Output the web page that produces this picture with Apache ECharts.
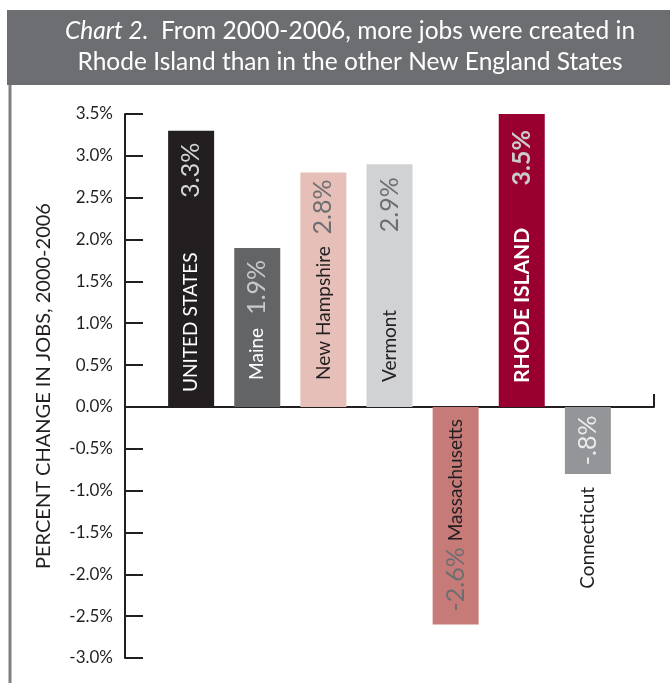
<!DOCTYPE html>
<html>
<head>
<meta charset="utf-8">
<script src="https://cdn.jsdelivr.net/npm/echarts@6/dist/echarts.min.js"></script>
<style>
  html, body { margin: 0; padding: 0; background: #ffffff; }
  #chart { width: 670px; height: 683px; }
</style>
</head>
<body>
<div id="chart"></div>
<script>
// Job growth 2000-2006, United States and the New England states (percent)
const categories = ['UNITED STATES', 'Maine', 'New Hampshire', 'Vermont', 'Massachusetts', 'RHODE ISLAND', 'Connecticut'];
const jobChange = [3.3, 1.9, 2.8, 2.9, -2.6, 3.5, -0.8];

// Value axis range and step
const yMin = -3.0;
const yMax = 3.5;
const yStep = 0.5;

// Look of each bar and its two labels (name and value)
const barLook = [
  { fill: '#231f20', nameColor: '#ffffff', valueColor: '#d6d6d6', nameGap: 15, valueGap: 12 },
  { fill: '#636466', nameColor: '#ffffff', valueColor: '#c9c9c9', nameGap: 27, valueGap: 12 },
  { fill: '#e6bfb9', nameColor: '#231f20', valueColor: '#6d6e71', nameGap: 27, valueGap: 7 },
  { fill: '#d1d2d4', nameColor: '#231f20', valueColor: '#6d6e71', nameGap: 25, valueGap: 13 },
  { fill: '#c77b79', nameColor: '#231f20', valueColor: '#6d6e71', nameGap: 12, valueGap: 13 },
  { fill: '#990030', nameColor: '#ffffff', valueColor: '#cbcbcb', nameGap: 24, valueGap: 16, bold: true },
  { fill: '#939598', nameColor: '#231f20', valueColor: '#ececec', nameGap: 13, valueGap: 0 }
];

const FONT = 'Lato, "Open Sans", sans-serif';
const INK = '#231f20';

function pct(v) {
  const s = Math.abs(v).toFixed(1).replace(/^0/, '');
  return (v < 0 ? '-' : '') + s + '%';
}

// Bars sit on a padded category axis so the baseline runs past both ends
const axisCats = [''].concat(categories, ['']);

const barData = [null];
const nameData = [null];
jobChange.forEach(function (v, i) {
  const look = barLook[i];
  const shortBar = Math.abs(v) < 1;
  const up = v >= 0;
  const valueLabel = {
    show: true,
    rotate: 90,
    color: look.valueColor,
    fontSize: 25,
    fontFamily: FONT,
    fontWeight: look.bold ? 'bold' : 'normal',
    verticalAlign: 'middle',
    formatter: function () { return pct(v); }
  };
  const nameLabel = {
    show: true,
    rotate: 90,
    color: look.nameColor,
    fontSize: look.bold ? 21 : 19,
    fontFamily: FONT,
    fontWeight: look.bold ? 'bold' : 'normal',
    verticalAlign: 'middle',
    formatter: function () { return categories[i]; }
  };
  if (up) {
    Object.assign(valueLabel, { position: 'insideTop', align: 'right', distance: look.valueGap });
    Object.assign(nameLabel, { position: 'insideBottom', align: 'left', distance: look.nameGap });
  } else if (!shortBar) {
    Object.assign(valueLabel, { position: 'insideBottom', align: 'left', distance: look.valueGap });
    Object.assign(nameLabel, { position: 'insideTop', align: 'right', distance: look.nameGap });
  } else {
    Object.assign(valueLabel, { position: 'inside', align: 'center' });
    Object.assign(nameLabel, { position: 'bottom', align: 'right', distance: look.nameGap });
  }
  barData.push({ value: v, itemStyle: { color: look.fill }, label: valueLabel });
  nameData.push({ value: v, label: nameLabel });
});
barData.push(null);
nameData.push(null);

const chart = echarts.init(document.getElementById('chart'), null, { renderer: 'canvas' });

chart.setOption({
  animation: false,
  backgroundColor: '#ffffff',
  graphic: [
    { type: 'rect', z: 0, shape: { x: 7, y: 10, width: 663, height: 75 }, style: { fill: '#6d6e71' } },
    { type: 'line', z: 0, shape: { x1: 10, y1: 85, x2: 10, y2: 683 }, style: { stroke: '#808083', lineWidth: 3 } }
  ],
  title: {
    text: '{it|Chart 2.}  From 2000-2006, more jobs were created in\nRhode Island than in the other New England States',
    left: 345,
    top: 11,
    textAlign: 'center',
    z: 10,
    textStyle: {
      color: '#ffffff',
      fontSize: 24.5,
      fontWeight: 'normal',
      fontFamily: FONT,
      lineHeight: 31,
      rich: {
        it: { color: '#ffffff', fontSize: 24.5, fontStyle: 'italic', fontFamily: FONT, lineHeight: 31 }
      }
    }
  },
  grid: { left: 125, right: 16, top: 114, bottom: 25, containLabel: false },
  xAxis: {
    type: 'category',
    data: axisCats,
    boundaryGap: false,
    axisLine: { show: true, onZero: true, lineStyle: { color: INK, width: 2 } },
    axisTick: {
      show: true,
      inside: true,
      length: 13,
      interval: function (index) { return index === axisCats.length - 1; },
      lineStyle: { color: INK, width: 2 }
    },
    axisLabel: { show: false },
    splitLine: { show: false }
  },
  yAxis: {
    type: 'value',
    min: yMin,
    max: yMax,
    interval: yStep,
    name: 'PERCENT CHANGE IN JOBS, 2000-2006',
    nameLocation: 'middle',
    nameGap: 71,
    nameTextStyle: { color: INK, fontSize: 20, fontFamily: FONT },
    axisLine: { show: true, lineStyle: { color: INK, width: 2 } },
    axisTick: { show: true, inside: true, length: 18, lineStyle: { color: INK, width: 2 } },
    axisLabel: {
      color: INK,
      fontSize: 17,
      fontFamily: FONT,
      margin: 12,
      formatter: function (v) { return v.toFixed(1) + '%'; }
    },
    splitLine: { show: false }
  },
  series: [
    {
      name: 'Job change',
      type: 'bar',
      barWidth: 46,
      data: barData,
      z: 2
    },
    {
      name: 'State names',
      type: 'bar',
      barWidth: 46,
      barGap: '-100%',
      silent: true,
      itemStyle: { color: 'rgba(0,0,0,0)' },
      data: nameData,
      z: 3
    }
  ]
});
</script>
</body>
</html>
